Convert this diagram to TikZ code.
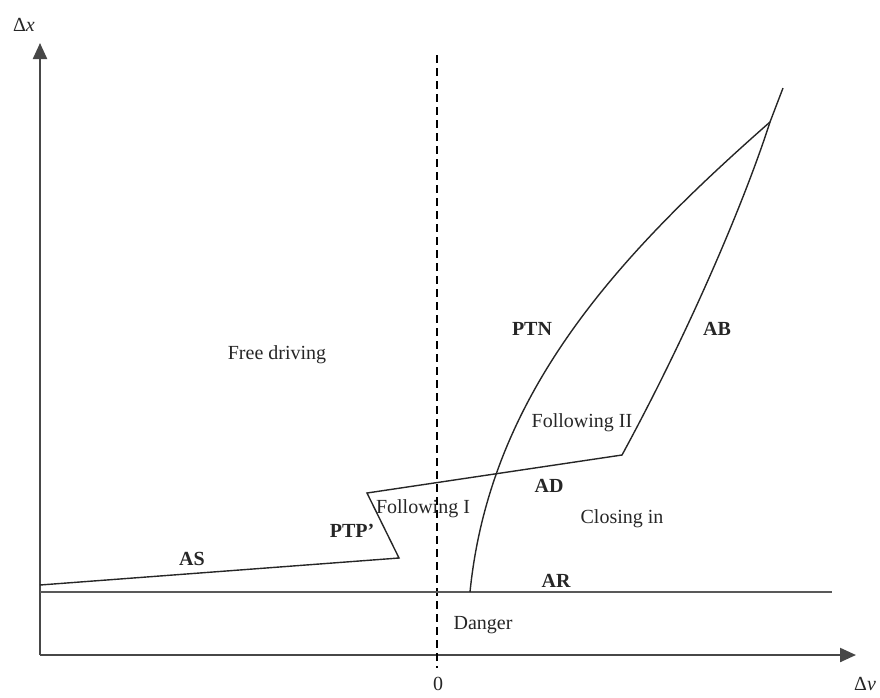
\documentclass[tikz,border=0pt]{standalone}
\usepackage{fontspec}
\setmainfont{Liberation Serif}
\usetikzlibrary{arrows.meta}
\begin{document}
\begin{tikzpicture}[x=1pt,y=-1pt,
  lbl/.style={font=\fontsize{20}{24}\selectfont, text=black!85, inner sep=0pt, anchor=base},
  blbl/.style={lbl, font=\fontsize{20}{24}\selectfont\bfseries},
  axis/.style={line width=2.2pt, draw=black!72, -{Triangle[length=16pt,width=14pt]}},
  bound/.style={line width=1.4pt, draw=black!85},
  thickline/.style={line width=2.2pt, draw=black!65},
  zeroline/.style={line width=1.7pt, draw=black, dash pattern=on 8pt off 5pt}]
  \useasboundingbox (0,0) rectangle (880,697);

  % key points of the regime boundaries
  \coordinate (O)     at (40,655);
  \coordinate (ytip)  at (40,43);
  \coordinate (xtip)  at (856,655);
  \coordinate (zt)    at (437,55);
  \coordinate (zb)    at (437,668);
  \coordinate (arL)   at (40,592);
  \coordinate (arR)   at (832,592);
  \coordinate (asL)   at (40,585);
  \coordinate (ptpB)  at (399,558);
  \coordinate (ptpT)  at (367,493);
  \coordinate (adR)   at (622,455);
  \coordinate (J)     at (770,122);
  \coordinate (abTop) at (783,88);
  \coordinate (ptnB)  at (470,592);

  % axes
  \draw[axis] (O) -- (ytip);
  \draw[axis] (O) -- (xtip);

  % zero relative speed
  \draw[zeroline] (zt) -- (zb);

  % AR threshold
  \draw[thickline] (arL) -- (arR);

  % AS, PTP', AD and AB thresholds
  \draw[bound, line join=miter] (asL) -- (ptpB) -- (ptpT) -- (adR)
    .. controls (690,330) and (745,200) .. (J) -- (abTop);

  % PTN threshold
  \draw[bound] (ptnB) .. controls (490,392) and (620,254) .. (J);

  % axis labels
  \node[lbl] (dx) at (24,31) {Δ\textit{x}};
  \node[lbl] (dv) at (865,690) {Δ\textit{v}};
  \node[lbl] (zero) at (438,690) {0};

  % regime labels
  \node[lbl]  (free)  at (277,359) {Free driving};
  \node[blbl] (ptn)   at (532,335) {PTN};
  \node[blbl] (ab)    at (717,335) {AB};
  \node[lbl]  (fol2)  at (582,427) {Following II};
  \node[blbl] (ad)    at (549,492) {AD};
  \node[lbl]  (clos)  at (622,523) {Closing in};
  \node[lbl]  (fol1)  at (423,513) {Following I};
  \node[blbl] (ptp)   at (352,537) {PTP’};
  \node[blbl] (as)    at (192,565) {AS};
  \node[blbl] (ar)    at (556,587) {AR};
  \node[lbl]  (dang)  at (483,629) {Danger};
\end{tikzpicture}
\end{document}
